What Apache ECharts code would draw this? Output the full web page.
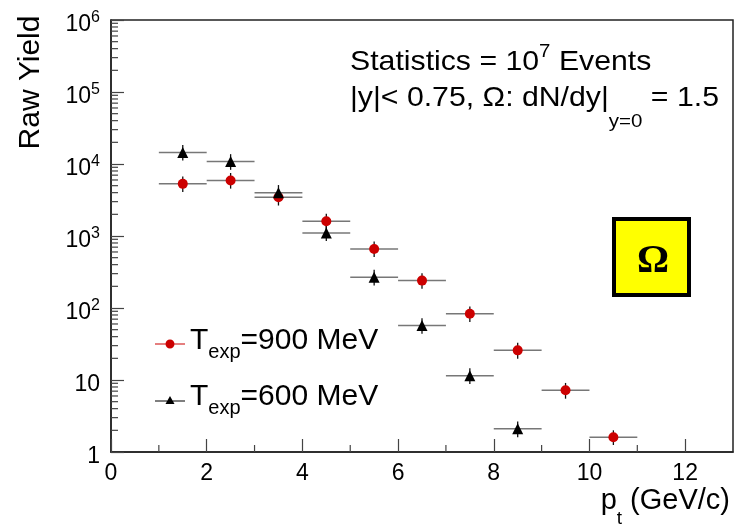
<!DOCTYPE html>
<html><head><meta charset="utf-8">
<script src="https://cdn.jsdelivr.net/npm/echarts@6/dist/echarts.min.js"></script>
<style>html,body{margin:0;padding:0;background:#fff}#c{width:734px;height:524px}</style>
</head><body><div id="c"></div>
<script>
// ---- data ----
const binWidth = 1.0;
const redX  = [1.5, 2.5, 3.5, 4.5, 5.5, 6.5, 7.5, 8.5, 9.5, 10.5];
const redY  = [5300, 5900, 3450, 1600, 660, 240, 83, 25.8, 7.2, 1.6];
const redHi = [6700, 7500, 4400, 2030, 840, 305, 105, 33, 9.1, 2.0];
const redLo = [4100, 4550, 2650, 1230, 510, 185, 64, 19.8, 5.5, 1.25];
const blkX  = [1.5, 2.5, 3.5, 4.5, 5.5, 6.5, 7.5, 8.5];
const blkY  = [14500, 10800, 4000, 1100, 267, 57, 11.5, 2.1];
const blkHi = [18400, 13700, 5100, 1400, 340, 72, 14.6, 2.65];
const blkLo = [11200, 8300, 3100, 850, 205, 44, 8.8, 1.6];
const xMinorTicks = [1, 3, 5, 7, 9, 11];
const yDecades = [1, 10, 100, 1000, 10000, 100000];
const yMinorMult = [2, 3, 4, 5, 6, 7, 8, 9];
const yTickLabels = {1: '1', 10: '10', 100: '10^2', 1000: '10^3', 10000: '10^4', 100000: '10^5', 1000000: '10^6'};
const legendLabels = {T900: ['T', 'exp', '=900 MeV'], T600: ['T', 'exp', '=600 MeV']};

const FONT = 'Liberation Sans';
const yMinorTicks = [];
yDecades.forEach(d => yMinorMult.forEach(m => yMinorTicks.push(d * m)));

function errSeries(xs, ys, lo, hi) {
  return {
    type: 'custom', silent: true, z: 2,
    data: xs.map((x, i) => [x, ys[i], lo[i], hi[i]]),
    encode: {x: 0, y: 1},
    renderItem(params, api) {
      const x = api.value(0), y = api.value(1);
      const l = api.coord([x - binWidth / 2, y]), r = api.coord([x + binWidth / 2, y]);
      const t = api.coord([x, api.value(3)]), b = api.coord([x, api.value(2)]);
      return {type: 'group', children: [
        {type: 'line', shape: {x1: l[0], y1: l[1], x2: r[0], y2: r[1]}, style: {stroke: '#777', lineWidth: 1.5}},
        {type: 'line', shape: {x1: t[0], y1: t[1], x2: b[0], y2: b[1]}, style: {stroke: '#111', lineWidth: 1.3}}
      ]};
    }
  };
}

const chart = echarts.init(document.getElementById('c'));
chart.setOption({
  animation: false,
  backgroundColor: '#fff',
  grid: {left: 111, right: 1, top: 20, bottom: 72, show: true, borderColor: '#222', borderWidth: 1.5, backgroundColor: 'transparent'},
  xAxis: {
    type: 'value', min: 0, max: 13, interval: 2,
    axisLine: {show: true, lineStyle: {color: '#222', width: 1.5}},
    axisTick: {show: true, inside: true, length: 13, lineStyle: {color: '#444', width: 1.2}},
    splitLine: {show: false},
    axisLabel: {margin: 10, color: '#000', fontFamily: FONT, fontSize: 23, showMaxLabel: false}
  },
  yAxis: {
    type: 'log', logBase: 10, min: 1, max: 1000000, splitNumber: 6,
    axisLine: {show: true, lineStyle: {color: '#222', width: 1.5}},
    axisTick: {show: true, inside: true, length: 13, lineStyle: {color: '#444', width: 1.2}},
    splitLine: {show: false},
    axisLabel: {
      margin: 11, color: '#000', fontFamily: FONT, fontSize: 22, padding: [6, 0, 0, 0],
      formatter: v => {
        const k = Math.round(v);
        const s = yTickLabels[k] || '';
        if (s.indexOf('^') < 0) return '{b|' + s + '}';
        const p = s.split('^');
        return '{b|' + p[0] + '}{s|' + p[1] + '}';
      },
      rich: {
        b: {fontFamily: FONT, fontSize: 23, lineHeight: 26, verticalAlign: 'bottom', color: '#000'},
        s: {fontFamily: FONT, fontSize: 16, lineHeight: 18, verticalAlign: 'top', color: '#000'}
      }
    }
  },
  legend: {
    orient: 'vertical', left: 155, top: 326, padding: 0, itemWidth: 30, itemHeight: 10, itemGap: 20,
    data: [
      {name: 'T900', icon: 'path://M0,4.5 L30,4.5 L30,5.5 L0,5.5 Z M19.5,5 C19.5,7.5 17.5,9.5 15,9.5 C12.5,9.5 10.5,7.5 10.5,5 C10.5,2.5 12.5,0.5 15,0.5 C17.5,0.5 19.5,2.5 19.5,5 Z'},
      {name: 'T600', icon: 'path://M0,6 L30,6 L30,7 L0,7 Z M15,1.5 L19.5,9.5 L10.5,9.5 Z'}
    ],
    formatter: n => { const l = legendLabels[n]; return '{t|' + l[0] + '}{s|' + l[1] + '}{t|' + l[2] + '}'; },
    textStyle: {
      rich: {
        t: {fontFamily: FONT, fontSize: 30, lineHeight: 34, verticalAlign: 'top', color: '#000'},
        s: {fontFamily: FONT, fontSize: 20, lineHeight: 36, verticalAlign: 'bottom', color: '#000'}
      }
    }
  },
  graphic: [
    {type: 'text', x: 350, y: 42, scaleX: 1.08, style: {
      text: '{a|Statistics = 10}{p|7}{a| Events}',
      rich: {
        a: {fontFamily: FONT, fontSize: 28, lineHeight: 34, verticalAlign: 'bottom', fill: '#000'},
        p: {fontFamily: FONT, fontSize: 19, lineHeight: 22, verticalAlign: 'top', fill: '#000'}
      }}},
    {type: 'text', x: 350, y: 84, scaleX: 1.08, style: {
      text: '{a|\u007Cy\u007C< 0.75, \u03A9: dN/dy\u007C}{b|y=0}{a| = 1.5}',
      rich: {
        a: {fontFamily: FONT, fontSize: 28, lineHeight: 34, verticalAlign: 'top', fill: '#000'},
        b: {fontFamily: FONT, fontSize: 19, lineHeight: 47, verticalAlign: 'bottom', fill: '#000'}
      }}},
    {type: 'text', x: 30.5, y: 82.5, rotation: Math.PI / 2, style: {text: 'Raw Yield', font: '30px "Liberation Sans"', fill: '#000', align: 'center', verticalAlign: 'middle'}},
    {type: 'text', right: 4, top: 486, style: {
      text: '{a|p}{b|t}{a| (GeV/c)}',
      rich: {
        a: {fontFamily: FONT, fontSize: 29, lineHeight: 34, verticalAlign: 'top', fill: '#000'},
        b: {fontFamily: FONT, fontSize: 19, lineHeight: 42, verticalAlign: 'bottom', fill: '#000'}
      }}},
    {type: 'rect', shape: {x: 614, y: 219, width: 75, height: 76}, style: {fill: '#ffff00', stroke: '#000', lineWidth: 4}},
    {type: 'text', style: {x: 653, y: 262, text: '\u03A9', font: 'bold 40px "Liberation Serif"', fill: '#000', align: 'center', verticalAlign: 'middle'}}
  ],
  series: [
    {type: 'custom', silent: true, z: 1, data: yMinorTicks.map(v => [0, v]), encode: {x: 0, y: 1},
      renderItem(p, api) { const c = api.coord([0, api.value(1)]); return {type: 'line', shape: {x1: c[0], y1: c[1], x2: c[0] + 7, y2: c[1]}, style: {stroke: '#444', lineWidth: 1.2}}; }},
    {type: 'custom', silent: true, z: 1, data: xMinorTicks.map(v => [v, 1]), encode: {x: 0, y: 1},
      renderItem(p, api) { const c = api.coord([api.value(0), 1]); return {type: 'line', shape: {x1: c[0], y1: c[1], x2: c[0], y2: c[1] - 7}, style: {stroke: '#444', lineWidth: 1.2}}; }},
    errSeries(redX, redY, redLo, redHi),
    errSeries(blkX, blkY, blkLo, blkHi),
    {name: 'T900', type: 'scatter', z: 3, symbol: 'circle', symbolSize: 10, itemStyle: {color: '#cc0000', opacity: 1},
      data: redX.map((x, i) => [x, redY[i]])},
    {name: 'T600', type: 'scatter', z: 4, symbol: 'triangle', symbolSize: 11, itemStyle: {color: '#000', opacity: 1},
      data: blkX.map((x, i) => [x, blkY[i]])}
  ]
});
</script>
</body></html>
